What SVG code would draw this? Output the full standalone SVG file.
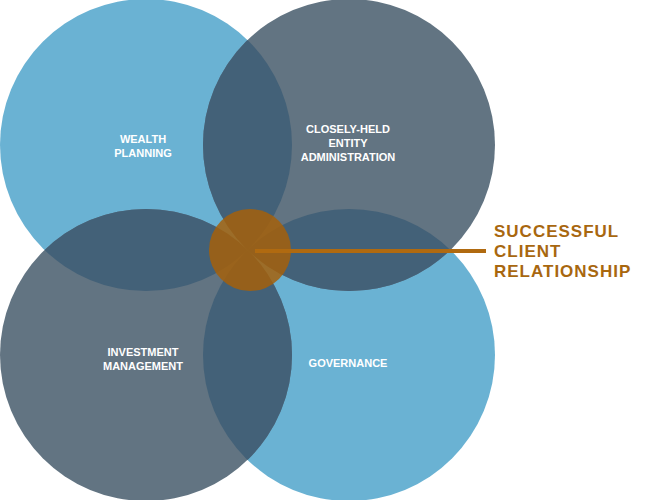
<svg xmlns="http://www.w3.org/2000/svg" width="649" height="500" viewBox="0 0 649 500">
<style>
.b{fill:#6AB2D3}.s{fill:#627482}.o{fill:#436178}
.t{font-family:"Liberation Sans",Arial,sans-serif;font-weight:bold;font-size:11px;fill:#fff;text-anchor:middle}
.r{font-family:"Liberation Sans",Arial,sans-serif;font-weight:bold;font-size:17px;fill:#A8670F;letter-spacing:1px}
</style>
<defs>
<clipPath id="cTL"><circle cx="146" cy="145" r="146"/></clipPath>
<clipPath id="cBR"><circle cx="349" cy="355" r="146"/></clipPath>
</defs>
<g id="wealth"><circle class="b" cx="146" cy="145" r="146"/></g>
<g id="governance"><circle class="b" cx="349" cy="355" r="146"/></g>
<g id="closely"><circle class="s" cx="349" cy="145" r="146"/></g>
<g id="investment"><circle class="s" cx="146" cy="355" r="146"/></g>
<g clip-path="url(#cTL)"><circle class="o" cx="349" cy="145" r="146"/><circle class="o" cx="146" cy="355" r="146"/></g>
<g clip-path="url(#cBR)"><circle class="o" cx="349" cy="145" r="146"/><circle class="o" cx="146" cy="355" r="146"/></g>
<text class="t" x="143" y="143">WEALTH</text><text class="t" x="143" y="157">PLANNING</text>
<text class="t" x="348" y="133">CLOSELY-HELD</text><text class="t" x="348" y="147">ENTITY</text><text class="t" x="348" y="161">ADMINISTRATION</text>
<text class="t" x="143" y="356">INVESTMENT</text><text class="t" x="143" y="370">MANAGEMENT</text>
<text class="t" x="348" y="367">GOVERNANCE</text>
<g id="center"><circle cx="250" cy="250" r="41" fill="#A5600A" fill-opacity="0.85"/></g>
<g id="connectors"><line x1="255" y1="251" x2="486" y2="251" stroke="#B06A10" stroke-width="4"/></g>
<text class="r" x="494" y="237">SUCCESSFUL</text>
<text class="r" x="494" y="257">CLIENT</text>
<text class="r" x="494" y="277">RELATIONSHIP</text>
</svg>
